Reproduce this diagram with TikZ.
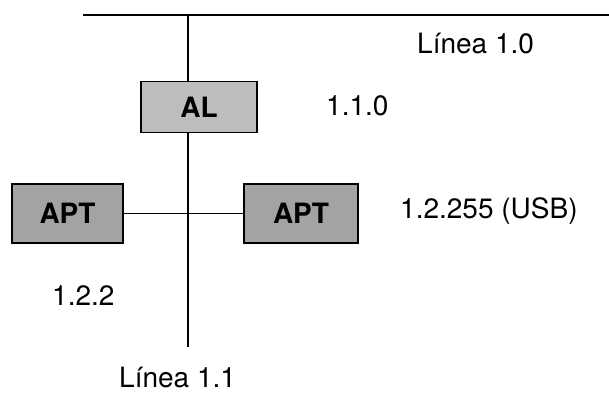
\documentclass[tikz,border=0pt]{standalone}
\usepackage{fontspec}
\setmainfont{TeX Gyre Heros}
\definecolor{algray}{HTML}{BDBDBD}
\definecolor{aptgray}{HTML}{A3A3A3}
\tikzset{
  dev/.style={draw=black,line width=1.4pt,inner sep=0pt,font=\fontsize{28}{30}\selectfont\bfseries},
  lbl/.style={anchor=base west,inner sep=0pt,font=\fontsize{28}{30}\selectfont},
  bus/.style={line width=1.2pt}
}
\begin{document}
\begin{tikzpicture}[x=1pt,y=-1pt]
  \useasboundingbox (0,0) rectangle (609,394);
  % lines
  \coordinate (l10a) at (83,15);
  \coordinate (l10b) at (609,15);
  \coordinate (l11a) at (188,15);
  \coordinate (l11b) at (188,347);
  \draw[bus] (l10a)--(l10b);
  \draw[bus] (l11a)--(l11b);
  % devices
  \node (al) [dev,fill=algray,minimum width=116pt,minimum height=51pt] at (199,107) {AL};
  \node (apt1) [dev,fill=aptgray,minimum width=111pt,minimum height=59pt] at (67.5,213.5) {APT};
  \node (apt2) [dev,fill=aptgray,minimum width=114pt,minimum height=59pt] at (301,213.5) {APT};
  \draw[bus] (apt1.east)--(apt2.west);
  % addresses
  \node (t10) [lbl] at (417,53) {Línea 1.0};
  \node (tal) [lbl] at (326,115) {1.1.0};
  \node (tusb) [lbl] at (400,218) {1.2.255 (USB)};
  \node (tapt) [lbl] at (52,305) {1.2.2};
  \node (t11) [lbl] at (119,387) {Línea 1.1};
\end{tikzpicture}
\end{document}
